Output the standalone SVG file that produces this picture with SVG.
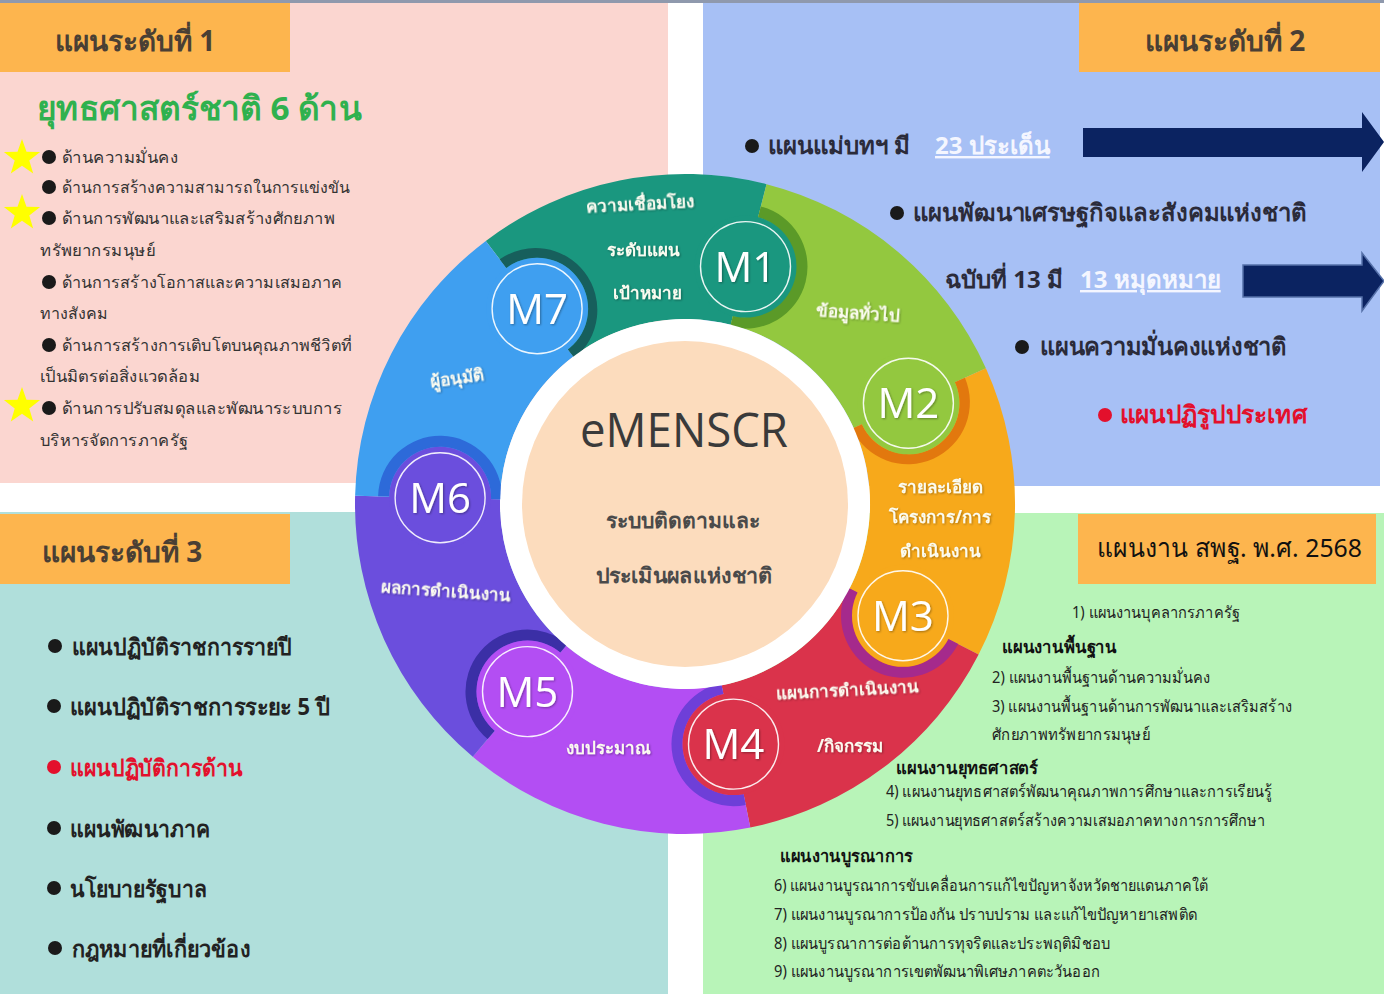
<svg xmlns="http://www.w3.org/2000/svg" width="1384" height="994" viewBox="0 0 1384 994">
<defs>
<style>
.th{font-family:'Noto Sans','DejaVu Sans',sans-serif}
.hdr{font-family:'Noto Sans','DejaVu Sans',sans-serif;font-size:28px;font-weight:bold;fill:#4a3f34}
.s1{font-family:'Noto Sans','DejaVu Sans',sans-serif;font-size:16px;fill:#333}
.tr{font-family:'Noto Sans','DejaVu Sans',sans-serif;font-size:24px;font-weight:bold;fill:#2b2b3a}
.bl{font-family:'Noto Sans','DejaVu Sans',sans-serif;font-size:23px;font-weight:bold;fill:#222}
.br{font-family:'Noto Sans','DejaVu Sans',sans-serif;font-size:16px;fill:#222}
.brb{font-family:'Noto Sans','DejaVu Sans',sans-serif;font-size:17px;font-weight:bold;fill:#111}
.rl{font-family:'Noto Sans','DejaVu Sans',sans-serif;font-size:17px;font-weight:bold;fill:#fbfbf0;text-anchor:middle;filter:url(#ts)}
.mk{font-family:'Open Sans','Liberation Sans',sans-serif;font-size:42px;fill:#fff;text-anchor:middle;filter:url(#ts)}
.ring{fill:none;stroke:#fff;stroke-width:1.4;stroke-opacity:.9}
.box{fill:#fdb54e}
.dot{fill:#1a1a1a}
.red{fill:#e3102c}
.ul{fill:#f4f6ff;text-decoration:underline}
.arr{fill:#0b2361}
</style>
<filter id="ts" x="-20%" y="-20%" width="140%" height="140%">
<feDropShadow dx="1" dy="1" stdDeviation="0.8" flood-color="#000" flood-opacity="0.35"/>
</filter>
<path id="star" d="M0,-19 L4.5,-6.2 L18.1,-5.9 L7.3,2.4 L11.2,15.4 L0,7.7 L-11.2,15.4 L-7.3,2.4 L-18.1,-5.9 L-4.5,-6.2 Z" fill="#ffff00"/>
</defs>

<rect width="1384" height="994" fill="#fff"/>

<!-- panels -->
<g id="panels">
<rect x="0" y="0" width="668" height="483" fill="#fbd6d0"/>
<rect x="703" y="0" width="677" height="486" fill="#a7c0f5"/>
<rect x="0" y="512" width="668" height="482" fill="#b0dfdb"/>
<rect x="703" y="513" width="681" height="481" fill="#b8f4b8"/>
<rect x="0" y="0" width="1384" height="3" fill="#8f99ad"/>
</g>

<!-- level 1 -->
<g id="level1">
<rect class="box" x="0" y="3" width="290" height="69"/>
<text class="hdr" x="55" y="51">แผนระดับที่ 1</text>
<text class="th" x="37" y="120" font-size="33" font-weight="bold" fill="#2fb14e" textLength="325" lengthAdjust="spacingAndGlyphs">ยุทธศาสตร์ชาติ 6 ด้าน</text>
<use href="#star" x="22" y="158"/>
<use href="#star" x="22" y="213"/>
<use href="#star" x="22" y="406"/>
<circle class="dot" cx="49" cy="157" r="7"/>
<circle class="dot" cx="49" cy="187" r="7"/>
<circle class="dot" cx="49" cy="218" r="7"/>
<circle class="dot" cx="49" cy="282" r="7"/>
<circle class="dot" cx="49" cy="345" r="7"/>
<circle class="dot" cx="49" cy="408" r="7"/>
<text class="s1" x="62" y="163" textLength="116" lengthAdjust="spacingAndGlyphs">ด้านความมั่นคง</text>
<text class="s1" x="62" y="193" textLength="288" lengthAdjust="spacingAndGlyphs">ด้านการสร้างความสามารถในการแข่งขัน</text>
<text class="s1" x="62" y="224" textLength="273" lengthAdjust="spacingAndGlyphs">ด้านการพัฒนาและเสริมสร้างศักยภาพ</text>
<text class="s1" x="40" y="256" textLength="115" lengthAdjust="spacingAndGlyphs">ทรัพยากรมนุษย์</text>
<text class="s1" x="62" y="288" textLength="280" lengthAdjust="spacingAndGlyphs">ด้านการสร้างโอกาสและความเสมอภาค</text>
<text class="s1" x="40" y="319" textLength="68" lengthAdjust="spacingAndGlyphs">ทางสังคม</text>
<text class="s1" x="62" y="351" textLength="290" lengthAdjust="spacingAndGlyphs">ด้านการสร้างการเติบโตบนคุณภาพชีวิตที่</text>
<text class="s1" x="40" y="382" textLength="160" lengthAdjust="spacingAndGlyphs">เป็นมิตรต่อสิ่งแวดล้อม</text>
<text class="s1" x="62" y="414" textLength="280" lengthAdjust="spacingAndGlyphs">ด้านการปรับสมดุลและพัฒนาระบบการ</text>
<text class="s1" x="40" y="446" textLength="148" lengthAdjust="spacingAndGlyphs">บริหารจัดการภาครัฐ</text>
</g>

<!-- level 2 -->
<g id="level2">
<rect class="box" x="1079" y="3" width="301" height="69"/>
<text class="hdr" x="1145" y="51">แผนระดับที่ 2</text>
<circle class="dot" cx="752" cy="146" r="7"/>
<text class="tr" x="768" y="154">แผนแม่บทฯ  มี <tspan class="ul" x="935">23 ประเด็น</tspan></text>
<path class="arr" d="M1083,128 H1362 V112 L1384,142 L1362,172 V157 H1083 Z"/>
<circle class="dot" cx="897" cy="213" r="7"/>
<text class="tr" x="913" y="221" textLength="394" lengthAdjust="spacingAndGlyphs">แผนพัฒนาเศรษฐกิจและสังคมแห่งชาติ</text>
<text class="tr" x="945" y="288">ฉบับที่ 13 มี <tspan class="ul" x="1080">13 หมุดหมาย</tspan></text>
<path class="arr" d="M1243,265 H1362 V253 L1384,281 L1362,311 V297 H1243 Z" stroke="#5570a8" stroke-width="1.5"/>
<circle class="dot" cx="1022" cy="347" r="7"/>
<text class="tr" x="1040" y="355" textLength="247" lengthAdjust="spacingAndGlyphs">แผนความมั่นคงแห่งชาติ</text>
<circle class="red" cx="1105" cy="415" r="7"/>
<text class="tr" x="1120" y="423" style="fill:#e3102c" textLength="187" lengthAdjust="spacingAndGlyphs">แผนปฏิรูปประเทศ</text>
</g>

<!-- level 3 -->
<g id="level3">
<rect class="box" x="0" y="514" width="290" height="70"/>
<text class="hdr" x="42" y="562">แผนระดับที่ 3</text>
<circle class="dot" cx="55" cy="646" r="7"/>
<circle class="dot" cx="54" cy="706" r="7"/>
<circle class="red" cx="54" cy="767" r="7"/>
<circle class="dot" cx="54" cy="828" r="7"/>
<circle class="dot" cx="54" cy="888" r="7"/>
<circle class="dot" cx="55" cy="948" r="7"/>
<text class="bl" x="72" y="655" textLength="220" lengthAdjust="spacingAndGlyphs">แผนปฏิบัติราชการรายปี</text>
<text class="bl" x="70" y="715" textLength="260" lengthAdjust="spacingAndGlyphs">แผนปฏิบัติราชการระยะ 5 ปี</text>
<text class="bl" x="70" y="776" style="fill:#e3102c" textLength="173" lengthAdjust="spacingAndGlyphs">แผนปฏิบัติการด้าน</text>
<text class="bl" x="70" y="837" textLength="140" lengthAdjust="spacingAndGlyphs">แผนพัฒนาภาค</text>
<text class="bl" x="70" y="897" textLength="137" lengthAdjust="spacingAndGlyphs">นโยบายรัฐบาล</text>
<text class="bl" x="72" y="957" textLength="178" lengthAdjust="spacingAndGlyphs">กฎหมายที่เกี่ยวข้อง</text>
</g>

<!-- obec plan -->
<g id="obec">
<rect class="box" x="1078" y="514" width="298" height="70"/>
<text class="th" x="1097" y="557" font-size="26" fill="#111" textLength="265" lengthAdjust="spacingAndGlyphs">แผนงาน สพฐ. พ.ศ. 2568</text>
<text class="br" x="1072" y="618" textLength="168" lengthAdjust="spacingAndGlyphs">1) แผนงานบุคลากรภาครัฐ</text>
<text class="brb" x="1002" y="653" textLength="115" lengthAdjust="spacingAndGlyphs">แผนงานพื้นฐาน</text>
<text class="br" x="992" y="683" textLength="218" lengthAdjust="spacingAndGlyphs">2) แผนงานพื้นฐานด้านความมั่นคง</text>
<text class="br" x="992" y="712" textLength="300" lengthAdjust="spacingAndGlyphs">3) แผนงานพื้นฐานด้านการพัฒนาและเสริมสร้าง</text>
<text class="br" x="992" y="740" textLength="158" lengthAdjust="spacingAndGlyphs">ศักยภาพทรัพยากรมนุษย์</text>
<text class="brb" x="896" y="774" textLength="142" lengthAdjust="spacingAndGlyphs">แผนงานยุทธศาสตร์</text>
<text class="br" x="886" y="797" textLength="386" lengthAdjust="spacingAndGlyphs">4) แผนงานยุทธศาสตร์พัฒนาคุณภาพการศึกษาและการเรียนรู้</text>
<text class="br" x="886" y="826" textLength="379" lengthAdjust="spacingAndGlyphs">5) แผนงานยุทธศาสตร์สร้างความเสมอภาคทางการการศึกษา</text>
<text class="brb" x="780" y="862" textLength="133" lengthAdjust="spacingAndGlyphs">แผนงานบูรณาการ</text>
<text class="br" x="774" y="891" textLength="434" lengthAdjust="spacingAndGlyphs">6) แผนงานบูรณาการขับเคลื่อนการแก้ไขปัญหาจังหวัดชายแดนภาคใต้</text>
<text class="br" x="774" y="920" textLength="423" lengthAdjust="spacingAndGlyphs">7) แผนงานบูรณาการป้องกัน ปราบปราม และแก้ไขปัญหายาเสพติด</text>
<text class="br" x="774" y="949" textLength="336" lengthAdjust="spacingAndGlyphs">8) แผนบูรณาการต่อต้านการทุจริตและประพฤติมิชอบ</text>
<text class="br" x="774" y="977" textLength="326" lengthAdjust="spacingAndGlyphs">9) แผนงานบูรณาการเขตพัฒนาพิเศษภาคตะวันออก</text>
</g>

<!-- wheel -->
<g id="wheel-segments">
<path d="M485.8,240.9 A330,330 0 0 1 766.5,184.2 L730.7,324.7 A185,185 0 0 0 573.3,356.5 Z" fill="#1a977f"/>
<path d="M766.5,184.2 A330,330 0 0 1 985.9,368.3 L853.7,428 A185,185 0 0 0 730.7,324.7 Z" fill="#93c83f"/>
<path d="M985.9,368.3 A330,330 0 0 1 978.6,654.6 L849.6,588.5 A185,185 0 0 0 853.7,428 Z" fill="#f7a91b"/>
<path d="M978.6,654.6 A330,330 0 0 1 750.3,827.5 L721.6,685.3 A185,185 0 0 0 849.6,588.5 Z" fill="#da334b"/>
<path d="M750.3,827.5 A330,330 0 0 1 472.8,756.7 L566,645.7 A185,185 0 0 0 721.6,685.3 Z" fill="#b34ef3"/>
<path d="M472.8,756.7 A330,330 0 0 1 355.1,495.7 L500.1,499.3 A185,185 0 0 0 566,645.7 Z" fill="#6b4edd"/>
<path d="M355.1,495.7 A330,330 0 0 1 485.8,240.9 L573.3,356.5 A185,185 0 0 0 500.1,499.3 Z" fill="#3f9ff0"/>
</g>

<g id="wheel-shadows">
<path d="M760.8,206.5 A62,62 0 0 1 730.2,326.7 L732.9,316 A51,51 0 0 0 758.1,217.2 Z" fill="#5b9a28"/>
<path d="M964.9,377.8 A62,62 0 0 1 851.9,428.8 L861.9,424.3 A51,51 0 0 0 954.9,382.3 Z" fill="#e2780e"/>
<path d="M958.2,644.1 A62,62 0 0 1 847.8,587.5 L857.6,592.5 A51,51 0 0 0 948.4,639.1 Z" fill="#a52a8c"/>
<path d="M745.8,804.9 A62,62 0 0 1 721.2,683.3 L723.4,694.1 A51,51 0 0 0 743.6,794.1 Z" fill="#6e3fd8"/>
<path d="M487.6,739.1 A62,62 0 0 1 567.4,644.1 L560.3,652.5 A51,51 0 0 0 494.7,730.7 Z" fill="#3b2fa6"/>
<path d="M378.1,496.2 A62,62 0 0 1 502.1,499.4 L491.1,499.1 A51,51 0 0 0 389.1,496.5 Z" fill="#2d6ad9"/>
<path d="M499.7,259.3 A62,62 0 0 1 574.5,358.1 L567.9,349.4 A51,51 0 0 0 506.3,268 Z" fill="#175f5c"/>
</g>

<circle cx="685" cy="504" r="185" fill="#fff"/>

<g id="M1">
<circle cx="745.5" cy="266.6" r="51" fill="#1a977f"/>
<circle class="ring" cx="745.5" cy="266.6" r="45"/>
<text class="mk" x="745.5" y="281.6">M1</text>
</g>
<g id="M2">
<circle cx="908.4" cy="403.3" r="51" fill="#93c83f"/>
<circle class="ring" cx="908.4" cy="403.3" r="45"/>
<text class="mk" x="908.4" y="418.3">M2</text>
</g>
<g id="M3">
<circle cx="903" cy="615.8" r="51" fill="#f7a91b"/>
<circle class="ring" cx="903" cy="615.8" r="45"/>
<text class="mk" x="903" y="630.8">M3</text>
</g>
<g id="M4">
<circle cx="733.5" cy="744.1" r="51" fill="#da334b"/>
<circle class="ring" cx="733.5" cy="744.1" r="45"/>
<text class="mk" x="733.5" y="759.1">M4</text>
</g>
<g id="M5">
<circle cx="527.5" cy="691.6" r="51" fill="#b34ef3"/>
<circle class="ring" cx="527.5" cy="691.6" r="45"/>
<text class="mk" x="527.5" y="706.6">M5</text>
</g>
<g id="M6">
<circle cx="440.1" cy="497.8" r="51" fill="#6b4edd"/>
<circle class="ring" cx="440.1" cy="497.8" r="45"/>
<text class="mk" x="440.1" y="512.8">M6</text>
</g>
<g id="M7">
<circle cx="537.1" cy="308.7" r="51" fill="#3f9ff0"/>
<circle class="ring" cx="537.1" cy="308.7" r="45"/>
<text class="mk" x="537.1" y="323.7">M7</text>
</g>

<g id="ring-labels">
<text class="rl" x="640" y="210" transform="rotate(-3 640 204)">ความเชื่อมโยง</text>
<text class="rl" x="643" y="256">ระดับแผน</text>
<text class="rl" x="647" y="299">เป้าหมาย</text>
<text class="rl" x="858" y="319" transform="rotate(4 858 313)">ข้อมูลทั่วไป</text>
<text class="rl" x="457" y="384" transform="rotate(-8 457 378)">ผู้อนุมัติ</text>
<text class="rl" x="940" y="493">รายละเอียด</text>
<text class="rl" x="940" y="523">โครงการ/การ</text>
<text class="rl" x="940" y="557">ดำเนินงาน</text>
<text class="rl" x="446" y="597" transform="rotate(4 446 591)">ผลการดำเนินงาน</text>
<text class="rl" x="847" y="696" transform="rotate(-3 847 690)">แผนการดำเนินงาน</text>
<text class="rl" x="850" y="752">/กิจกรรม</text>
<text class="rl" x="608" y="754">งบประมาณ</text>
</g>

<g id="center">
<circle cx="685" cy="504" r="163" fill="#fcdcbd"/>
<text x="684" y="447" font-family="'Open Sans','Liberation Sans',sans-serif" font-size="48" fill="#3a3a3a" text-anchor="middle" textLength="208" lengthAdjust="spacingAndGlyphs">eMENSCR</text>
<text class="th" x="683" y="528" font-size="21" font-weight="bold" fill="#4a4a4a" text-anchor="middle" textLength="155" lengthAdjust="spacingAndGlyphs">ระบบติดตามและ</text>
<text class="th" x="684" y="583" font-size="21" font-weight="bold" fill="#4a4a4a" text-anchor="middle" textLength="177" lengthAdjust="spacingAndGlyphs">ประเมินผลแห่งชาติ</text>
</g>
</svg>
